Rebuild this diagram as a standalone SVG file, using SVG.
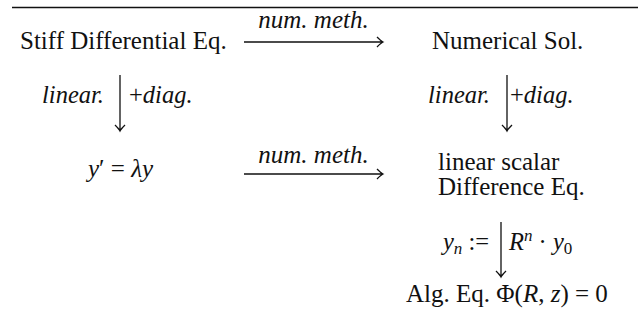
<svg xmlns="http://www.w3.org/2000/svg" width="638" height="330" viewBox="0 0 638 330">
<rect width="638" height="330" fill="#fff"/>
<line x1="12" y1="7.5" x2="638" y2="7.5" stroke="#111" stroke-width="1.5"/>
<g id="connectors" stroke="#111" stroke-width="1.3" fill="none">
<path d="M244,42 H383 M377,37 Q381,41 383,42 Q381,43 377,47"/>
<path d="M244,174 H383 M377,169 Q381,173 383,174 Q381,175 377,179"/>
<path d="M120,75 V131 M115,125 Q119,129 120,131 Q121,129 125,125"/>
<path d="M507,75 V131 M502,125 Q506,129 507,131 Q508,129 512,125"/>
<path d="M501,222 V277 M496,271 Q500,275 501,277 Q502,275 506,271"/>
</g>
<g id="labels" fill="#111">
<text style="font-family:'Liberation Serif'" font-family="Liberation Serif" font-size="25" font-style="italic" x="313.5" y="28" text-anchor="middle">num. meth.</text>
<text style="font-family:'Liberation Serif'" font-family="Liberation Serif" font-size="25" font-style="italic" x="313.5" y="163" text-anchor="middle">num. meth.</text>
<text style="font-family:'Liberation Serif'" font-family="Liberation Serif" font-size="24.5" font-style="italic" x="104" y="103" text-anchor="end">linear.</text>
<text style="font-family:'Liberation Serif'" font-family="Liberation Serif" font-size="24.5" x="129" y="103">+<tspan font-style="italic">diag.</tspan></text>
<text style="font-family:'Liberation Serif'" font-family="Liberation Serif" font-size="24.5" font-style="italic" x="490" y="103" text-anchor="end">linear.</text>
<text style="font-family:'Liberation Serif'" font-family="Liberation Serif" font-size="24.5" x="510" y="103">+<tspan font-style="italic">diag.</tspan></text>
<text style="font-family:'Liberation Serif'" font-family="Liberation Serif" font-size="24.5" x="489" y="250" text-anchor="end"><tspan font-style="italic">y</tspan><tspan font-style="italic" font-size="17" dy="4">n</tspan><tspan dy="-4"> :=</tspan></text>
<text style="font-family:'Liberation Serif'" font-family="Liberation Serif" font-size="24.5" x="509" y="250"><tspan font-style="italic">R</tspan><tspan font-style="italic" font-size="17" dy="-9">n</tspan><tspan dy="9"> · </tspan><tspan font-style="italic">y</tspan><tspan font-size="17" dy="4">0</tspan></text>
</g>
<g id="stiff" fill="#111"><text style="font-family:'Liberation Serif'" font-family="Liberation Serif" font-size="25" x="20" y="49">Stiff Differential Eq.</text></g>
<g id="numsol" fill="#111"><text style="font-family:'Liberation Serif'" font-family="Liberation Serif" font-size="25" x="432" y="49">Numerical Sol.</text></g>
<g id="test" fill="#111"><text style="font-family:'Liberation Serif'" font-family="Liberation Serif" font-size="25" x="120.5" y="177" text-anchor="middle"><tspan font-style="italic">y</tspan>′ = <tspan font-style="italic">λy</tspan></text></g>
<g id="diffeq" fill="#111">
<text style="font-family:'Liberation Serif'" font-family="Liberation Serif" font-size="25" x="438" y="170">linear scalar</text>
<text style="font-family:'Liberation Serif'" font-family="Liberation Serif" font-size="25" x="438" y="195">Difference Eq.</text>
</g>
<g id="alg" fill="#111"><text style="font-family:'Liberation Serif'" font-family="Liberation Serif" font-size="25" x="406" y="302">Alg. Eq. Φ(<tspan font-style="italic">R</tspan>, <tspan font-style="italic">z</tspan>) = 0</text></g>
</svg>
